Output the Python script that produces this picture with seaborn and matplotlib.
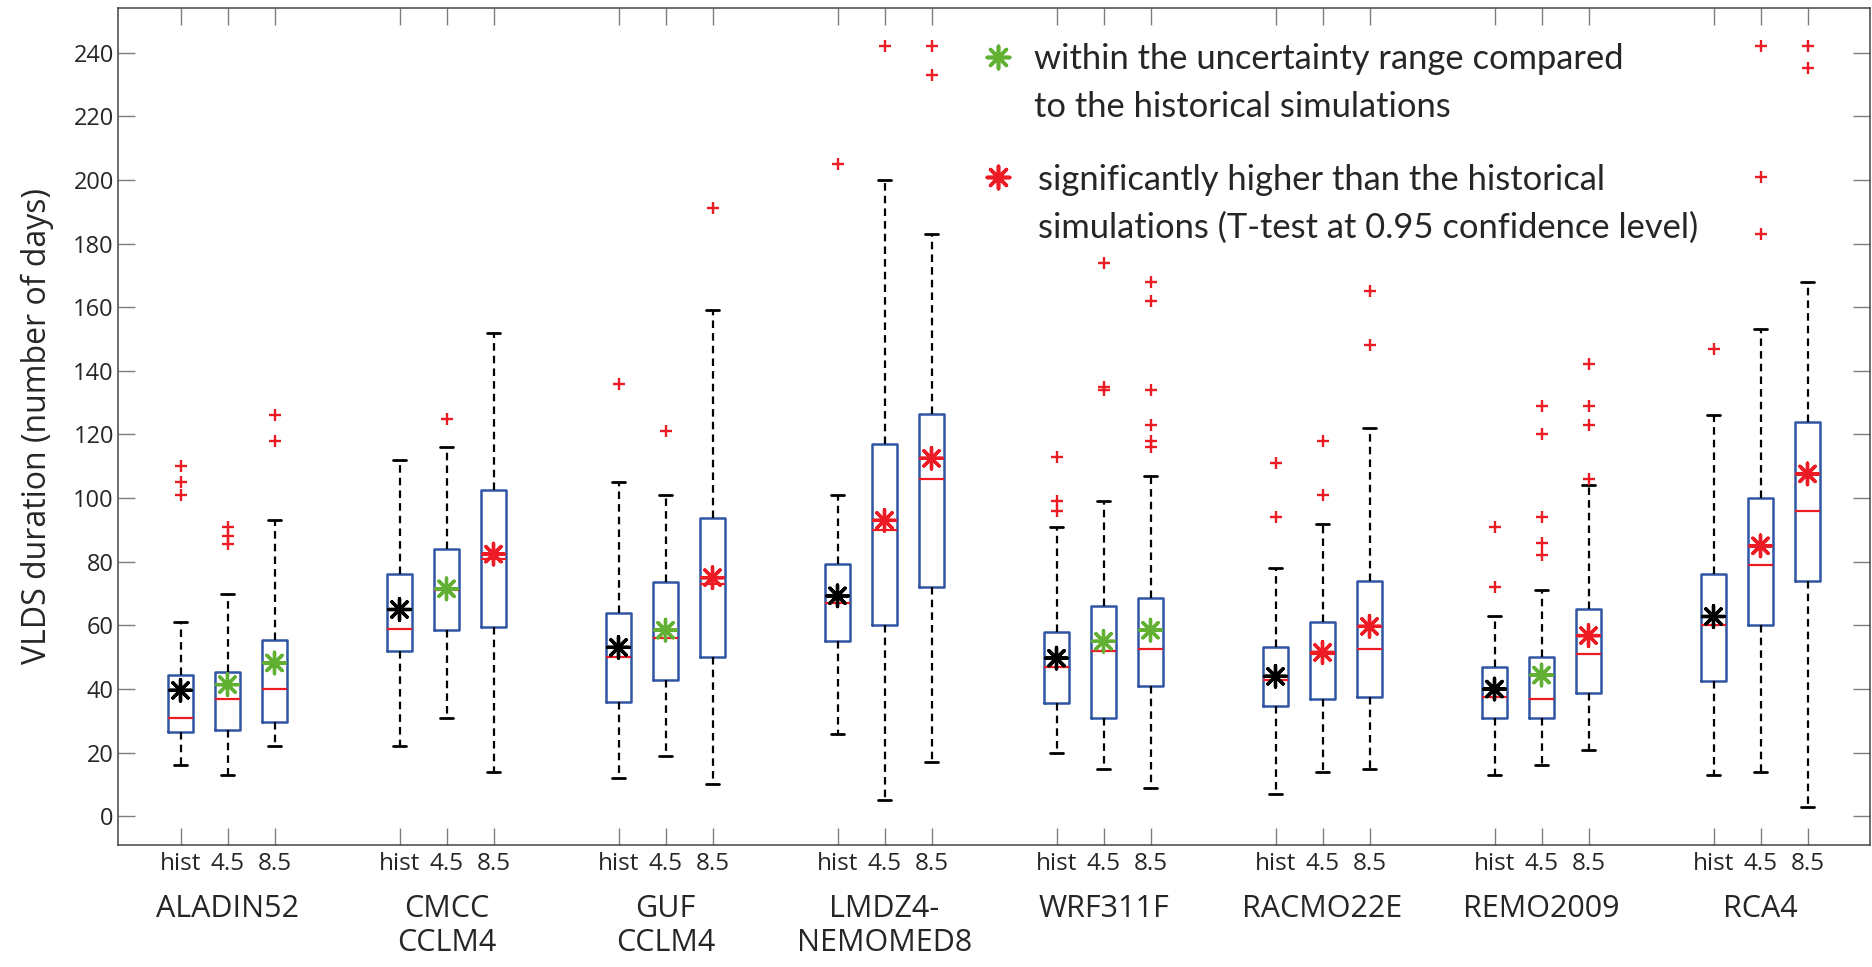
import numpy as np
import pandas as pd
import matplotlib
matplotlib.use("Agg")
import matplotlib.pyplot as plt
import seaborn as sns

# ---------------- data ----------------
models = ["ALADIN52", "CMCC\nCCLM4", "GUF\nCCLM4", "LMDZ4-\nNEMOMED8",
          "WRF311F", "RACMO22E", "REMO2009", "RCA4"]
scenarios = ["hist", "4.5", "8.5"]

# one entry per box, model-major order (hist, 4.5, 8.5 for each model)
whisker_low = [16, 13, 22,   22, 31, 14,   12, 19, 10.3,   26, 5, 17,
               20, 15, 9,    7, 14, 15,    13, 16, 21,     13, 14, 3]
quartile_1 = [26.5, 27, 29.5,   52, 58.5, 59.5,   36, 42.8, 50,   55, 60, 72,
              35.5, 31, 41,     34.8, 37, 37.5,   31, 31, 38.7,   42.6, 60, 74]
median = [31, 37, 40,   59, 71, 81,   50, 56, 73,   67, 90, 106,
          47, 52, 52.5, 43, 51, 52.5, 37.6, 37, 51, 60, 79, 96]
quartile_3 = [44.3, 45.4, 55.5,   76, 84, 102.6,   64, 73.7, 93.8,   79.4, 117, 126.4,
              58, 66, 68.7,       53.3, 61, 74,    47, 50, 65,       76, 100, 124]
whisker_high = [61, 70, 93,   112, 116, 152,   105, 101, 159,   101, 200, 183,
                91, 99, 107,  78, 92, 122,     63, 71, 104,     126, 153, 168]
mean_value = [39.6, 41.4, 48.2,   65, 71.5, 82.4,   53.1, 58.5, 75,   69.3, 93, 112.5,
              49.7, 55, 58.5,     44, 51.5, 59.7,   40, 44.4, 56.8,   62.8, 85, 107.6]
# significance of the scenario mean vs. historical
mean_class = ["hist", "within", "within",   "hist", "within", "higher",
              "hist", "within", "higher",   "hist", "higher", "higher",
              "hist", "within", "within",   "hist", "higher", "higher",
              "hist", "within", "higher",   "hist", "higher", "higher"]
outliers = [[101, 105, 110], [85.5, 88, 91], [118, 126],
            [], [125], [],
            [136], [121], [191],
            [205], [242], [233, 242],
            [96, 99, 113], [134, 135, 174], [116, 118, 123, 134, 162, 168],
            [94, 111], [101, 118], [148, 165],
            [72, 91], [82, 86, 94, 120, 129], [106, 123, 129, 142],
            [147], [183, 201, 242], [235, 242]]

y_ticks = list(range(0, 241, 20))
legend_within = "within the uncertainty range compared\nto the historical simulations"
legend_higher = ("significantly higher than the historical\n"
                 "simulations (T-test at 0.95 confidence level)")

# ---------------- styling / layout ----------------
BLUE = "#2F55A4"
RED = "#ED1C24"
GREEN = "#62B033"
BLACK = "#000000"
BOX_STEP = 47 / 219  # spacing between boxes inside a model group (group step = 1)

# ---------------- build tidy tables ----------------
box_rows, out_rows, mean_rows = [], [], []
for i in range(len(median)):
    g, s = divmod(i, len(scenarios))
    pos = g + (s - 1) * BOX_STEP
    for v in (whisker_low[i], quartile_1[i], median[i], quartile_3[i], whisker_high[i]):
        box_rows.append({"pos": pos, "value": v})
    for v in outliers[i]:
        out_rows.append({"pos": pos, "value": v})
    mean_rows.append({"pos": pos, "value": mean_value[i], "cls": mean_class[i]})
box_df = pd.DataFrame(box_rows)
out_df = pd.DataFrame(out_rows)
mean_df = pd.DataFrame(mean_rows)
tick_pos = sorted(box_df["pos"].unique())
tick_lab = [scenarios[k % 3] for k in range(len(tick_pos))]

# ---------------- figure ----------------
sns.set_theme(style="white")
plt.rcParams["font.family"] = ["Open Sans", "DejaVu Sans"]

fig = plt.figure(figsize=(18.72, 9.67), dpi=100)
ax = fig.add_axes([118 / 1872, 1 - 845 / 967, 1752 / 1872, 837 / 967])

ASTER = (8, 2, 0)

sns.boxplot(data=box_df, x="pos", y="value", native_scale=True, orient="x",
            whis=(0, 100), width=0.53, fill=False, color=BLUE, saturation=1,
            linewidth=1.8, showfliers=False, ax=ax,
            boxprops=dict(color=BLUE, linewidth=1.8),
            medianprops=dict(color=RED, linewidth=1.6),
            whiskerprops=dict(color=BLACK, linewidth=1.6, linestyle=(0, (3.4, 2.3))),
            capprops=dict(color=BLACK, linewidth=2.0))

sns.scatterplot(data=out_df, x="pos", y="value", marker="+", color=RED,
                s=70, linewidth=1.7, ax=ax, zorder=4, legend=False)

sns.scatterplot(data=mean_df, x="pos", y="value", hue="cls",
                palette={"hist": BLACK, "within": GREEN, "higher": RED},
                marker=ASTER, s=240, linewidth=2.4, ax=ax, zorder=5, legend=False)

# axes cosmetics
ax.set_xlim(-0.5, 7.5)
ax.set_ylim(-9, 254)
ax.set_yticks(y_ticks)
ax.set_yticklabels([str(t) for t in y_ticks], fontsize=17)
ax.set_xticks(tick_pos)
ax.set_xticklabels(tick_lab, fontsize=17.5)
ax.set_xlabel("")
ax.set_ylabel("VLDS duration (number of days)", fontsize=23, labelpad=14)
ax.tick_params(axis="both", direction="in", length=12.5, width=1.0,
               color="#7f7f7f", top=True, right=True, bottom=True, left=True)
ax.tick_params(axis="x", pad=5)
ax.tick_params(axis="y", pad=3)
for sp in ax.spines.values():
    sp.set_color("#444444")
    sp.set_linewidth(1.1)
ax.grid(False)

sec = ax.secondary_xaxis("bottom")
sec.set_xticks(range(len(models)))
sec.set_xticklabels(models, fontsize=22)
sec.tick_params(length=0, pad=35)
sec.spines["bottom"].set_visible(False)

# custom legend
ax.scatter([0.5023], [0.9415], transform=ax.transAxes, marker=ASTER, s=260,
           color=GREEN, linewidth=2.6, zorder=6)
ax.scatter([0.5023], [0.798], transform=ax.transAxes, marker=ASTER, s=260,
           color=RED, linewidth=2.6, zorder=6)
ax.text(0.5228, 0.958, legend_within, transform=ax.transAxes, fontsize=24.8,
        family=["Lato", "DejaVu Sans"], va="top", ha="left", linespacing=1.6)
ax.text(0.5251, 0.814, legend_higher, transform=ax.transAxes, fontsize=24.8,
        family=["Lato", "DejaVu Sans"], va="top", ha="left", linespacing=1.6)

fig.savefig("out.png", dpi=100)
